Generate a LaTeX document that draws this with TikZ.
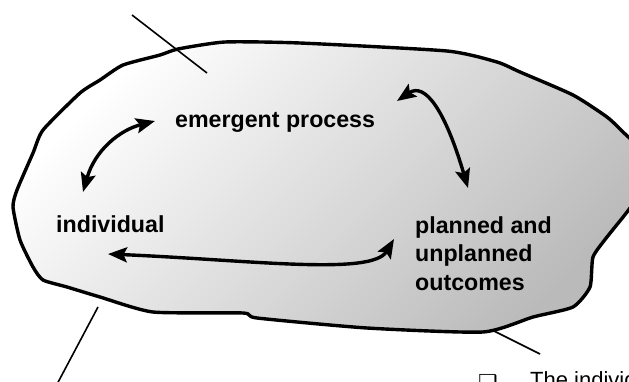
\documentclass[tikz,border=0pt]{standalone}
\usepackage{fontspec}
\setmainfont{Liberation Sans}
\newfontfamily\symfont{DejaVu Sans}
\usetikzlibrary{arrows.meta}
\tikzset{
  lbl/.style={anchor=base west,inner sep=0pt,font=\fontsize{23.2}{28.5}\selectfont\bfseries},
  conn/.style={line width=3.4pt,{Stealth[length=19pt,width=15pt,inset=3.5pt]}-{Stealth[length=19pt,width=15pt,inset=3.5pt]}},
  leader/.style={line width=1.6pt},
  blob/.style={line width=3.4pt,line join=round,top color=white,bottom color=black!27,shading angle=45}
}
\begin{document}
\begin{tikzpicture}[x=1pt,y=-1pt]
\useasboundingbox (0,0) rectangle (629,381);
\clip (0,0) rectangle (629,381);
% blob
\path[blob,draw] plot[smooth cycle,tension=0.35] coordinates{
 (100,80) (123,65) (160,55) (178,49) (225,42) (300,43) (447,51) (497,62)
 (520,72) (573,95) (607,117) (623,132) (640,150) (645,185) (627,212)
 (607,237) (593,257) (590,287) (573,307) (533,317) (483,332) (367,328)
 (257,318) (243,313) (153,312) (100,297) (67,287) (43,280) (33,267)
 (20,240) (13,207) (17,190) (33,153) (43,130) (80,93)};
% leader lines
\coordinate (l1a) at (132,15); \coordinate (l1b) at (207,73);
\coordinate (l2a) at (98,307); \coordinate (l2b) at (55,388);
\coordinate (l3a) at (492,330); \coordinate (l3b) at (540,354);
\draw[leader] (l1a) -- (l1b);
\draw[leader] (l2a) -- (l2b);
\draw[leader] (l3a) -- (l3b);
% labels
\node[lbl] (em) at (175,127) {emergent process};
\node[lbl] (ind) at (56,232) {individual};
\node[lbl,anchor=north west,align=left] (pl) at (415,216) {planned and\\unplanned\\outcomes};
% arrow ends
\coordinate (a1) at (155,121); \coordinate (a2) at (83,192);
\coordinate (b1) at (397,101); \coordinate (b2) at (468,188);
\coordinate (c1) at (108,254); \coordinate (c2) at (394,239);
\draw[conn] (a2) .. controls (95,150) and (120,130) .. (a1);
\draw[conn] (b1) .. controls (425,82) and (445,110) .. (b2);
\draw[conn] (c1) .. controls (250,260) and (372,276) .. (c2);
% bottom text
\node[anchor=base west,inner sep=0pt,font=\symfont\fontsize{22}{24}\selectfont] (bul) at (478,390) {❑};
\node[anchor=base west,inner sep=0pt,font=\fontsize{22}{26}\selectfont] (txt) at (530,387) {The individual};
\end{tikzpicture}
\end{document}
